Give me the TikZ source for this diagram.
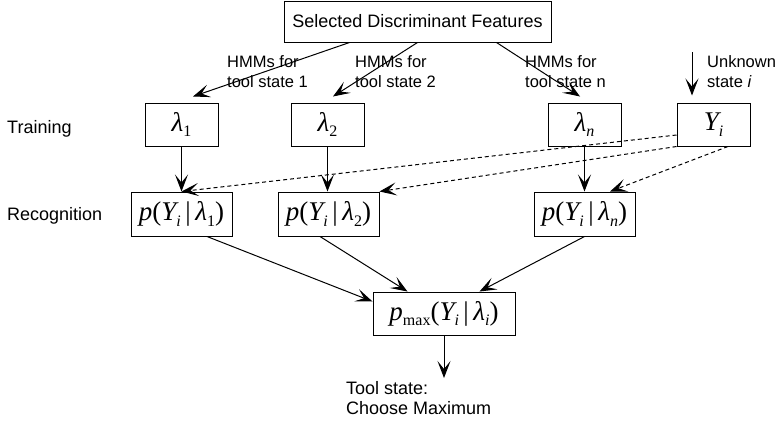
\documentclass[tikz,border=0pt]{standalone}
\usepackage{fontspec}
\setmainfont{Liberation Sans}
\newfontfamily\mathserif{Liberation Serif}
\usetikzlibrary{arrows.meta,calc}

% italic serif symbols with lowered subscripts
\newcommand\vsym[1]{{\mathserif\itshape #1}}
\newcommand\lowsub[1]{\raisebox{-0.45ex}{\fontsize{16}{16}\selectfont #1}}
\newcommand\formula[1]{{\mathserif\fontsize{27}{27}\selectfont #1}}

\begin{document}
\begin{tikzpicture}[x=1pt,y=-1pt,
  box/.style={draw, line width=1pt, inner sep=0pt, align=center},
  lbl/.style={inner sep=0pt, align=left, font=\fontsize{16.5}{20.5}\selectfont},
  side/.style={inner sep=0pt, font=\fontsize{18}{20}\selectfont},
  conn/.style={line width=1pt, -{Stealth[length=17pt,width=13pt,inset=8pt]}},
  dconn/.style={conn, dash pattern=on 4pt off 3pt}]
\useasboundingbox (0,0) rectangle (782,421);

% boxes
\node[box, minimum width=267pt, minimum height=41pt, font=\fontsize{18}{20}\selectfont]
  (top) at (417.5,21.5) {Selected Discriminant Features};
\node[box, minimum width=73pt, minimum height=43pt] (l1) at (181.5,124.5)
  {\formula{\vsym{λ}\lowsub{1}}};
\node[box, minimum width=73pt, minimum height=43pt] (l2) at (327.5,124.5)
  {\formula{\vsym{λ}\lowsub{2}}};
\node[box, minimum width=73pt, minimum height=43pt] (ln) at (584.5,124.5)
  {\formula{\vsym{λ}\lowsub{\itshape n}}};
\node[box, minimum width=73pt, minimum height=43pt] (yi) at (713.5,124.5)
  {\formula{\vsym{Y}\lowsub{\itshape i}}};
\node[box, minimum width=101pt, minimum height=44pt] (p1) at (181.5,214)
  {\formula{\vsym{p}(\vsym{Y}\lowsub{\itshape i}\,|\,\vsym{λ}\lowsub{1})}};
\node[box, minimum width=101pt, minimum height=44pt] (p2) at (328.5,214)
  {\formula{\vsym{p}(\vsym{Y}\lowsub{\itshape i}\,|\,\vsym{λ}\lowsub{2})}};
\node[box, minimum width=101pt, minimum height=44pt] (pn) at (584.5,214)
  {\formula{\vsym{p}(\vsym{Y}\lowsub{\itshape i}\,|\,\vsym{λ}\lowsub{\itshape n})}};
\node[box, minimum width=142pt, minimum height=43pt] (mx) at (444,313.5)
  {\formula{\vsym{p}\lowsub{max}(\vsym{Y}\lowsub{\itshape i}\,|\,\vsym{λ}\lowsub{\itshape i})}};

% labels
\node[lbl, anchor=north west] (h1) at (227,55) {HMMs for\\tool state 1};
\node[lbl, anchor=north west] (h2) at (355,55) {HMMs for\\tool state 2};
\node[lbl, anchor=north west] (hn) at (525,55) {HMMs for\\tool state n};
\node[lbl, anchor=north west] (unk) at (707,55) {Unknown\\state \textit{i}};
\node[side, anchor=base west] (train) at (7,133) {Training};
\node[side, anchor=base west] (recog) at (7,220) {Recognition};
\node[side, anchor=north west, align=left, font=\fontsize{18}{20}\selectfont]
  (res) at (346,381) {Tool state:\\Choose Maximum};

% free ends
\coordinate (unkstart) at (692,52);
\coordinate (resend) at (444,378);

% HMM training arrows
\draw[conn] ([xshift=66pt]top.south west) -- ([xshift=11.5pt,yshift=6pt]l1.north);
\draw[conn] (top.south) -- ([xshift=5.5pt,yshift=6pt]l2.north);
\draw[conn] ([xshift=213pt]top.south west) -- ([xshift=-4.5pt,yshift=6pt]ln.north);
\draw[conn] (unkstart) -- ([xshift=-21.5pt,yshift=7pt]yi.north);

% models to likelihoods
\draw[conn] (l1.south) -- (p1.north);
\draw[conn] (l2.south) -- (l2.south |- p2.north);
\draw[conn] (ln.south) -- (pn.north);

% observation to likelihoods
\draw[dconn] ([yshift=-10.5pt]yi.west) -- (p1.north);
\draw[dconn] (yi.south west) -- (p2.north east);
\draw[dconn] ([xshift=14.5pt]yi.south) -- ([xshift=25.5pt]pn.north);

% likelihoods to maximum
\draw[conn] ([xshift=25.5pt]p1.south) -- ([yshift=-10pt]mx.north west);
\draw[conn] ([xshift=-8.5pt]p2.south) -- ([xshift=35pt]mx.north west);
\draw[conn] (pn.south) -- ([xshift=107pt]mx.north west);
\draw[conn] (mx.south) -- (resend);
\end{tikzpicture}
\end{document}
